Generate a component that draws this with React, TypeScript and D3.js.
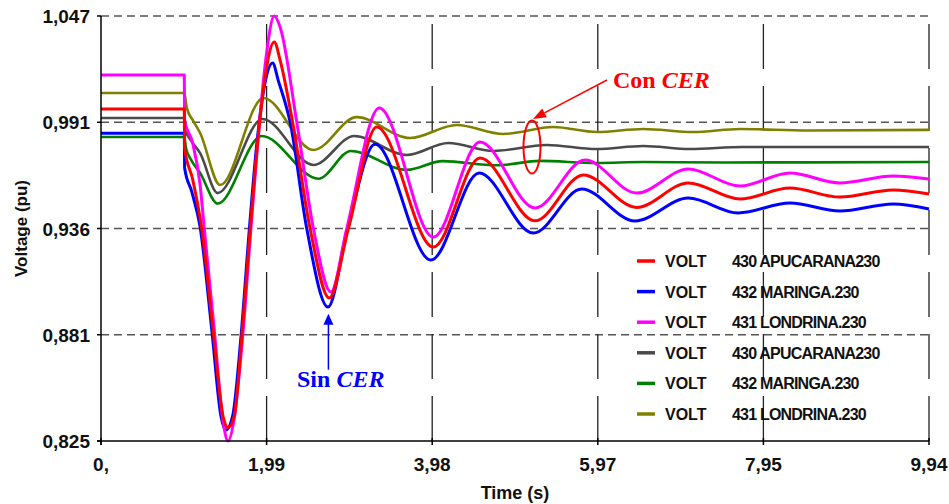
import React from 'react';
import * as d3 from 'd3';

// time (s), voltage (pu) pairs
const apucaranaSin: [number, number][] = [
  [0, 0.9984], [1.0, 0.9984], [1.004, 0.978], [1.1, 0.9617], [1.21, 0.9357], [1.345, 0.883],
  [1.47, 0.837], [1.525, 0.832], [1.6, 0.838], [1.69, 0.8793], [1.79, 0.9352], [1.88, 0.9807],
  [1.97, 1.0151], [2.08, 1.0334], [2.15, 1.024], [2.3, 0.9916], [2.51, 0.936], [2.74, 0.8997],
  [2.97, 0.936], [3.31, 0.989], [3.99, 0.9263], [4.55, 0.9728], [5.21, 0.94], [5.79, 0.964],
  [6.43, 0.947], [7.05, 0.9598], [7.67, 0.9514], [8.27, 0.9571], [8.87, 0.9524], [9.51, 0.9561],
  [9.94, 0.954],
];
const maringaSin: [number, number][] = [
  [0, 0.9858], [1.0, 0.9858], [1.004, 0.9676], [1.09, 0.9551], [1.19, 0.9368], [1.33, 0.883],
  [1.44, 0.838], [1.5, 0.8307], [1.58, 0.838], [1.68, 0.8793], [1.78, 0.9352], [1.87, 0.98],
  [1.96, 1.01], [2.06, 1.0225], [2.13, 1.013], [2.27, 0.9916], [2.47, 0.936], [2.725, 0.895],
  [2.96, 0.936], [3.29, 0.98], [3.96, 0.9195], [4.54, 0.965], [5.19, 0.9336], [5.77, 0.9566],
  [6.41, 0.9399], [7.05, 0.9519], [7.65, 0.9441], [8.27, 0.9493], [8.87, 0.9451], [9.51, 0.9488],
  [9.94, 0.9462],
];
const londrinaSin: [number, number][] = [
  [0, 1.0162], [1.0, 1.0162], [1.004, 0.9927], [1.1, 0.9807], [1.19, 0.9587], [1.24, 0.936],
  [1.36, 0.883], [1.46, 0.837], [1.525, 0.825], [1.6, 0.837], [1.7, 0.8793], [1.8, 0.936],
  [1.89, 0.985], [1.98, 1.025], [2.08, 1.047], [2.15, 1.0413], [2.35, 0.9916], [2.55, 0.936],
  [2.76, 0.9028], [2.95, 0.936], [3.34, 0.999], [3.99, 0.9315], [4.55, 0.9812], [5.21, 0.9467],
  [5.81, 0.9718], [6.43, 0.9545], [7.05, 0.9671], [7.67, 0.9582], [8.27, 0.965], [8.87, 0.9598],
  [9.51, 0.9634], [9.94, 0.9618],
];
const apucaranaCon: [number, number][] = [
  [0, 0.9937], [1.0, 0.9937], [1.02, 0.987], [1.08, 0.982], [1.19, 0.9754], [1.4, 0.9545],
  [1.94, 0.9932], [2.55, 0.9692], [3.04, 0.9843], [3.67, 0.9744], [4.17, 0.9807], [4.71, 0.9765],
  [5.35, 0.9796], [5.95, 0.9775], [6.51, 0.9791], [7.07, 0.9775], [7.7, 0.9786], [9.94, 0.9786],
];
const maringaCon: [number, number][] = [
  [0, 0.9838], [1.0, 0.9838], [1.02, 0.978], [1.08, 0.972], [1.19, 0.965], [1.4, 0.949],
  [1.93, 0.9843], [2.61, 0.962], [3.0, 0.9765], [3.67, 0.9666], [4.1, 0.9712], [4.75, 0.969],
  [5.27, 0.9713], [5.95, 0.9702], [6.51, 0.9707], [7.5, 0.9705], [9.94, 0.9707],
];
const londrinaCon: [number, number][] = [
  [0, 1.0068], [1.0, 1.0068], [1.03, 0.999], [1.1, 0.9927], [1.19, 0.9859], [1.43, 0.9587],
  [1.95, 1.0042], [2.55, 0.977], [3.07, 0.9942], [3.71, 0.9833], [4.27, 0.9901], [4.83, 0.9854],
  [5.43, 0.989], [5.95, 0.9864], [6.51, 0.988], [7.11, 0.9864], [7.67, 0.988], [8.5, 0.9872],
  [9.94, 0.9875],
];

const xTicks = [0, 1.988, 3.976, 5.964, 7.952, 9.94];
const xTickLabels = ['0,', '1,99', '3,98', '5,97', '7,95', '9,94'];
const yTicks = [0.825, 0.8805, 0.936, 0.9915, 1.047];
const yTickLabels = ['0,825', '0,881', '0,936', '0,991', '1,047'];

const legendNames = [
  '430 APUCARANA230', '432 MARINGA.230', '431 LONDRINA.230',
  '430 APUCARANA230', '432 MARINGA.230', '431 LONDRINA.230',
];
const legendColors = ['#ff0000', '#0000ff', '#ff00ff', '#4a4a4a', '#008000', '#808000'];

const W = 949;
const H = 504;
const m = { left: 101, right: 929, top: 16, bottom: 441 };
const sans = '"Liberation Sans", Arial, sans-serif';
const serif = '"Liberation Serif", "Times New Roman", serif';

export default function App() {
  const x = d3.scaleLinear().domain([0, 9.94]).range([m.left, m.right]);
  const y = d3.scaleLinear().domain([0.825, 1.047]).range([m.bottom, m.top]);
  const line = d3.line<[number, number]>()
    .x(d => x(d[0]))
    .y(d => y(d[1]))
    .curve(d3.curveMonotoneX);

  // draw order: Con CER first, Sin CER on top
  const drawn = [
    { data: londrinaCon, color: legendColors[5], w: 2.6 },
    { data: maringaCon, color: legendColors[4], w: 2.6 },
    { data: apucaranaCon, color: legendColors[3], w: 2.6 },
    { data: maringaSin, color: legendColors[1], w: 3 },
    { data: londrinaSin, color: legendColors[2], w: 3 },
    { data: apucaranaSin, color: legendColors[0], w: 3 },
  ];

  // annotation anchors in data space
  const sinTip = { x: x(2.73), y: y(0.8915) };
  const conEll = { x: x(5.174), y: y(0.9786) };

  return (
    <svg width={W} height={H} style={{ position: 'absolute', left: 0, top: 0, background: '#fff' }}>
      {/* horizontal grid */}
      {yTicks.slice(1).map((t, i) => (
        <line key={'hg' + i} x1={m.left} x2={m.right} y1={y(t)} y2={y(t)}
          stroke="#555" strokeWidth={1.3} strokeDasharray="8,5" />
      ))}
      {/* vertical grid */}
      {xTicks.slice(1).map((t, i) => (
        <line key={'vg' + i} x1={x(t)} x2={x(t)} y1={m.bottom} y2={m.top}
          stroke="#222" strokeWidth={1.3} strokeDasharray="45,17" />
      ))}

      {drawn.map((s, i) => (
        <path key={'s' + i} d={line(s.data) || ''} fill="none" stroke={s.color}
          strokeWidth={s.w} strokeLinejoin="round" />
      ))}

      {/* axes */}
      <line x1={m.left} x2={m.left} y1={m.top} y2={m.bottom + 4} stroke="#000" strokeWidth={1.5} />
      <line x1={m.left - 4} x2={m.right} y1={m.bottom} y2={m.bottom} stroke="#000" strokeWidth={1.5} />
      {yTicks.map((t, i) => (
        <g key={'yt' + i}>
          <line x1={m.left - 4} x2={m.left} y1={y(t)} y2={y(t)} stroke="#000" strokeWidth={1.5} />
          <text x={m.left - 11} y={y(t) + 7} textAnchor="end" fontFamily={sans}
            fontWeight="bold" fontSize={19} fill="#111">{yTickLabels[i]}</text>
        </g>
      ))}
      {xTicks.map((t, i) => (
        <g key={'xt' + i}>
          <line x1={x(t)} x2={x(t)} y1={m.bottom - 3} y2={m.bottom + 4} stroke="#000" strokeWidth={1.5} />
          <text x={x(t)} y={471} textAnchor="middle" fontFamily={sans}
            fontWeight="bold" fontSize={19} fill="#111">{xTickLabels[i]}</text>
        </g>
      ))}
      <text x={515} y={499} textAnchor="middle" fontFamily={sans} fontWeight="bold"
        fontSize={18} fill="#111">Time (s)</text>
      <text transform={`translate(27, ${(m.top + m.bottom) / 2}) rotate(-90)`} textAnchor="middle"
        fontFamily={sans} fontWeight="bold" fontSize={17} fill="#111">Voltage (pu)</text>

      {/* legend */}
      {legendNames.map((name, i) => {
        const cy = 261 + i * 30.6;
        return (
          <g key={'lg' + i}>
            <line x1={637} x2={655} y1={cy} y2={cy} stroke={legendColors[i]} strokeWidth={3.5} />
            <text x={665} y={cy + 6} fontFamily={sans} fontWeight="bold" fontSize={16} fill="#111">VOLT</text>
            <text x={732} y={cy + 6} fontFamily={sans} fontWeight="bold" fontSize={16}
              letterSpacing={-0.8} fill="#111">{name}</text>
          </g>
        );
      })}

      {/* Sin CER annotation */}
      <line x1={sinTip.x} x2={sinTip.x} y1={sinTip.y + 10} y2={sinTip.y + 56} stroke="#0000ff" strokeWidth={1.5} />
      <path d={`M${sinTip.x},${sinTip.y} L${sinTip.x - 5},${sinTip.y + 11} L${sinTip.x + 5},${sinTip.y + 11} Z`} fill="#0000ff" />
      <text x={297} y={387} fontFamily={serif} fontWeight="bold" fontSize={24} fill="#0000ff">
        Sin <tspan fontStyle="italic">CER</tspan>
      </text>

      {/* Con CER annotation */}
      <ellipse cx={conEll.x} cy={conEll.y} rx={8.5} ry={26.5} fill="none" stroke="#ff0000" strokeWidth={2} />
      {(() => {
        const tip = { x: conEll.x + 1, y: conEll.y - 28 };
        const from = { x: 607, y: 80 };
        const ang = Math.atan2(from.y - tip.y, from.x - tip.x);
        const len = 13, hw = 5;
        const bx = tip.x + Math.cos(ang) * len, by = tip.y + Math.sin(ang) * len;
        const px = -Math.sin(ang) * hw, py = Math.cos(ang) * hw;
        return (
          <g>
            <line x1={from.x} y1={from.y} x2={bx} y2={by} stroke="#ff0000" strokeWidth={1.5} />
            <path d={`M${tip.x},${tip.y} L${bx + px},${by + py} L${bx - px},${by - py} Z`} fill="#ff0000" />
          </g>
        );
      })()}
      <text x={613} y={88} fontFamily={serif} fontWeight="bold" fontSize={24} fill="#ff0000">
        Con <tspan fontStyle="italic">CER</tspan>
      </text>
    </svg>
  );
}
